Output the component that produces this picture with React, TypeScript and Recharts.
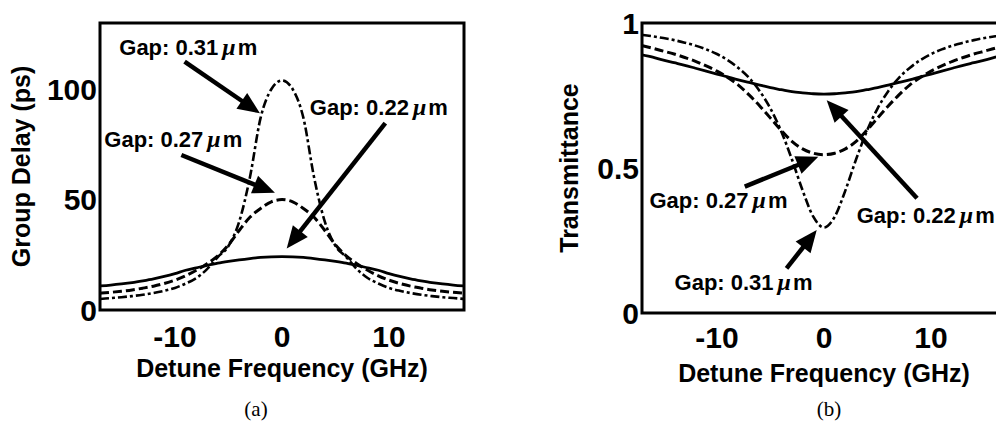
import { LineChart, Line, XAxis, YAxis, ReferenceArea, ReferenceLine, ReferenceDot } from 'recharts';

// detune frequency (GHz)
const detune = [-17, -16, -15, -14, -13, -12, -11, -10, -9, -8, -7, -6, -5, -4, -3, -2, -1, 0, 1, 2, 3, 4, 5, 6, 7, 8, 9, 10, 11, 12, 13, 14, 15, 16, 17];

// (a) group delay, ps
const delay022 = [10.9, 11.3, 11.8, 12.4, 13.2, 14.1, 15.2, 16.5, 18.0, 19.1, 20.2, 21.2, 22.0, 22.7, 23.3, 23.8, 24.1, 24.2, 24.1, 23.8, 23.3, 22.7, 22.0, 21.2, 20.2, 19.1, 18.0, 16.5, 15.2, 14.1, 13.2, 12.4, 11.8, 11.3, 10.9];
const delay027 = [7.6, 8.0, 8.5, 9.1, 9.9, 10.8, 12.0, 13.5, 15.5, 18.0, 21.0, 24.5, 29.5, 36.0, 42.0, 46.0, 49.0, 50.0, 49.0, 46.0, 42.0, 36.0, 29.5, 24.5, 21.0, 18.0, 15.5, 13.5, 12.0, 10.8, 9.9, 9.1, 8.5, 8.0, 7.6];
const delay031 = [5.0, 5.4, 5.8, 6.3, 6.9, 7.7, 8.7, 10.0, 12.0, 14.5, 18.5, 24.0, 29.0, 40.0, 60.0, 87.0, 100.0, 104.0, 100.0, 87.0, 60.0, 40.0, 29.0, 24.0, 18.5, 14.5, 12.0, 10.0, 8.7, 7.7, 6.9, 6.3, 5.8, 5.4, 5.0];

// (b) transmittance
const trans022 = [0.89, 0.882, 0.872, 0.863, 0.854, 0.844, 0.834, 0.824, 0.814, 0.804, 0.795, 0.786, 0.777, 0.77, 0.763, 0.759, 0.756, 0.755, 0.756, 0.759, 0.763, 0.77, 0.777, 0.786, 0.795, 0.804, 0.814, 0.824, 0.834, 0.844, 0.854, 0.863, 0.872, 0.882, 0.89];
const trans027 = [0.922, 0.913, 0.903, 0.893, 0.881, 0.868, 0.852, 0.834, 0.812, 0.786, 0.752, 0.714, 0.672, 0.63, 0.592, 0.566, 0.551, 0.546, 0.551, 0.566, 0.592, 0.63, 0.672, 0.714, 0.752, 0.786, 0.812, 0.834, 0.852, 0.868, 0.881, 0.893, 0.903, 0.913, 0.922];
const trans031 = [0.959, 0.954, 0.948, 0.941, 0.932, 0.922, 0.909, 0.893, 0.872, 0.845, 0.811, 0.765, 0.705, 0.627, 0.53, 0.423, 0.332, 0.295, 0.332, 0.423, 0.53, 0.627, 0.705, 0.765, 0.811, 0.845, 0.872, 0.893, 0.909, 0.922, 0.932, 0.941, 0.948, 0.954, 0.959];

const xTicks = [-10, 0, 10];
const delayTicks = [0, 50, 100];
const transTicks = [0, 0.5, 1];

// annotation anchors, in data units
const delayNotes = [
  { gap: '0.31', x: -15.2, y: 115.5 },
  { gap: '0.27', x: -16.6, y: 73.8 },
  { gap: '0.22', x: 2.6, y: 88.3 },
];
const delayArrows = [
  { from: [-9.1, 112.5], to: [-2.06, 89.1] },
  { from: [-9.4, 70.2], to: [-0.66, 53.1] },
  { from: [9.65, 84.6], to: [0.44, 27.9] },
];
const transNotes = [
  { gap: '0.27', x: -16.3, y: 0.361 },
  { gap: '0.31', x: -13.96, y: 0.079 },
  { gap: '0.22', x: 3.06, y: 0.309 },
];
const transArrows = [
  { from: [-7.4, 0.436], to: [-0.53, 0.539] },
  { from: [-3.5, 0.154], to: [-0.68, 0.286] },
  { from: [8.69, 0.396], to: [0.25, 0.734] },
];

const sans = 'Liberation Sans, Arial, sans-serif';

const delayData = detune.map((x, i) => ({ x, g22: delay022[i], g27: delay027[i], g31: delay031[i] }));
const transData = detune.map((x, i) => ({ x, g22: trans022[i], g27: trans027[i], g31: trans031[i] }));

function Arrow(props: any) {
  const { x1, y1, x2, y2 } = props;
  const dx = x2 - x1;
  const dy = y2 - y1;
  const len = Math.hypot(dx, dy) || 1;
  const ux = dx / len;
  const uy = dy / len;
  const head = 22;
  const half = 9.5;
  const bx = x2 - ux * head;
  const by = y2 - uy * head;
  return (
    <g>
      <line x1={x1} y1={y1} x2={bx + ux * 2} y2={by + uy * 2} stroke="#000" strokeWidth={4.5} />
      <polygon
        points={`${x2},${y2} ${bx - uy * half},${by + ux * half} ${bx + uy * half},${by - ux * half}`}
        fill="#000"
      />
    </g>
  );
}

function GapText(props: any) {
  const { cx, cy, gap } = props;
  return (
    <text x={cx} y={cy} fontFamily={sans} fontWeight="bold" fontSize={22} fill="#000">
      Gap: {gap}
      <tspan dx={4} fontFamily="Liberation Serif, serif" fontStyle="italic" fontSize={24}>μ</tspan>
      <tspan dx={2}>m</tspan>
    </text>
  );
}

const lineStyles = [
  { key: 'g22', dash: undefined, width: 2.8 },
  { key: 'g27', dash: '9 4', width: 3 },
  { key: 'g31', dash: '9 3 3 3', width: 2.6 },
];

const tickStyle = { fontSize: 30, fontWeight: 'bold', fill: '#000', fontFamily: sans };
const titleStyle = { fontSize: 25, fontWeight: 'bold', fill: '#000', fontFamily: sans };

function Panel(props: any) {
  const { data, yDomain, yTicks, yTitle, notes, arrows, yAxisWidth, width, height, plotH, titleX, tickGap, titleOffset } = props;
  return (
    <LineChart
      width={width}
      height={height}
      data={data}
      margin={{ top: 23, right: width - yAxisWidth - 364, left: 0, bottom: height - 23 - plotH - 70 }}
    >
      <XAxis
        type="number"
        dataKey="x"
        domain={[-17, 17]}
        ticks={xTicks}
        allowDataOverflow
        axisLine={false}
        tickLine={false}
        tickSize={0}
        tickMargin={tickGap}
        height={70}
        tick={tickStyle}
        label={{
          value: 'Detune Frequency (GHz)',
          position: 'insideBottom',
          offset: titleOffset,
          style: titleStyle,
        }}
      />
      <YAxis
        type="number"
        domain={yDomain}
        ticks={yTicks}
        allowDataOverflow
        width={yAxisWidth}
        axisLine={false}
        tickLine={false}
        tickSize={0}
        tickMargin={3}
        tick={tickStyle}
        label={{
          value: yTitle,
          angle: -90,
          position: 'insideLeft',
          offset: titleX,
          style: { ...titleStyle, textAnchor: 'middle' },
        }}
      />
      {lineStyles.map((s) => (
        <Line
          key={s.key}
          type="monotone"
          dataKey={s.key}
          stroke="#000"
          strokeWidth={s.width}
          strokeDasharray={s.dash}
          dot={false}
          activeDot={false}
          isAnimationActive={false}
        />
      ))}
      <ReferenceArea
        x1={-17}
        x2={17}
        y1={yDomain[0]}
        y2={yDomain[1]}
        fill="none"
        fillOpacity={0}
        stroke="#000"
        strokeWidth={3}
      />
      {arrows.map((a: any, i: number) => (
        <ReferenceLine
          key={'arrow' + i}
          segment={[
            { x: a.from[0], y: a.from[1] },
            { x: a.to[0], y: a.to[1] },
          ]}
          shape={(p: any) => <Arrow {...p} />}
        />
      ))}
      {notes.map((n: any, i: number) => (
        <ReferenceDot
          key={'note' + i}
          x={n.x}
          y={n.y}
          r={0}
          shape={(p: any) => <GapText {...p} gap={n.gap} />}
        />
      ))}
    </LineChart>
  );
}

const captionStyle = {
  position: 'absolute' as const,
  top: 399,
  width: 80,
  textAlign: 'center' as const,
  fontFamily: 'Liberation Serif, serif',
  fontSize: 21,
  lineHeight: '21px',
};

export default function App() {
  return (
    <div
      style={{
        position: 'fixed',
        left: 0,
        top: 0,
        width: 996,
        height: 423,
        overflow: 'hidden',
        background: '#fff',
      }}
    >
      <div style={{ position: 'absolute', left: 0, top: 0 }}>
        <Panel
          data={delayData}
          yDomain={[0, 130]}
          yTicks={delayTicks}
          yTitle="Group Delay (ps)"
          notes={delayNotes}
          arrows={delayArrows}
          yAxisWidth={100}
          width={480}
          height={400}
          plotH={287}
          titleX={21}
          tickGap={16}
          titleOffset={3}
        />
      </div>
      <div style={{ position: 'absolute', left: 520, top: 0 }}>
        <Panel
          data={transData}
          yDomain={[0, 1]}
          yTicks={transTicks}
          yTitle="Transmittance"
          notes={transNotes}
          arrows={transArrows}
          yAxisWidth={122}
          width={520}
          height={403}
          plotH={290}
          titleX={49}
          tickGap={14}
          titleOffset={1}
        />
      </div>
      <div style={{ ...captionStyle, left: 216 }}>(a)</div>
      <div style={{ ...captionStyle, left: 789 }}>(b)</div>
    </div>
  );
}
